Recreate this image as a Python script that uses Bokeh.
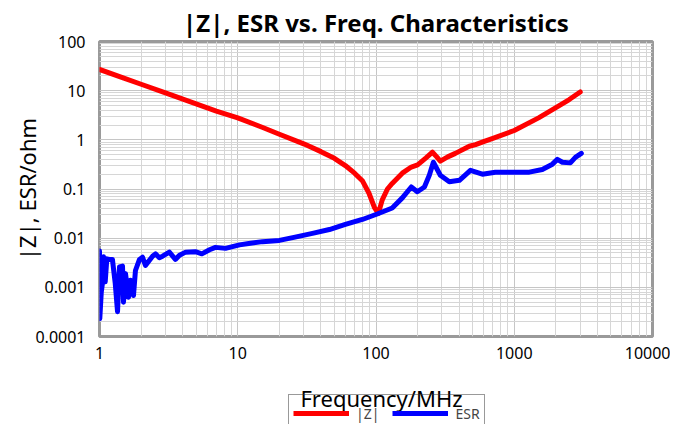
import numpy as np
from bokeh.plotting import figure
from bokeh.layouts import column
from bokeh.models import Range1d, FixedTicker, CustomJSTickFormatter, Legend, LegendItem, Label
from bokeh.embed import file_html
from bokeh.resources import INLINE

# ---- data ----
freq_z = [1, 1.5, 2, 3, 5, 7, 10, 15, 20, 30,
          40, 50, 60, 70, 80, 89, 97.5, 104, 111, 121,
          131, 155, 180, 200, 230, 256, 275, 292, 330, 375,
          473, 525, 600, 700, 1000, 1500, 2000, 2500, 3000]
z_vals = [27, 18, 13.5, 9, 5.4, 3.85, 2.8, 1.8, 1.3, 0.83,
          0.575, 0.42, 0.30, 0.21, 0.145, 0.082, 0.042, 0.032, 0.06, 0.1,
          0.13, 0.21, 0.28, 0.31, 0.43, 0.56, 0.45, 0.37, 0.45, 0.53,
          0.74, 0.8, 0.92, 1.07, 1.55, 2.8, 4.5, 6.6, 9.4]

freq_esr = [1.0, 1.005, 1.03, 1.05, 1.07, 1.1, 1.13, 1.18, 1.24, 1.3,
            1.35, 1.395, 1.467, 1.491, 1.542, 1.621, 1.675, 1.761, 1.82, 1.947,
            2.046, 2.15, 2.42, 2.54, 2.71, 2.86, 3.2, 3.54, 3.79, 4.2,
            4.94, 5.5, 6.25, 6.9, 8.15, 10.3, 12, 15.1, 20, 26,
            34.7, 46, 60, 79.7, 102, 131, 155, 180, 199, 224,
            243, 260, 292, 339, 401, 482, 588, 730, 968, 1285,
            1596, 1888, 2050, 2228, 2545, 2767, 3056]
esr_vals = [0.0055, 0.00023, 0.0008, 0.0012, 0.0042, 0.0013, 0.0038, 0.0037, 0.0037, 0.0012,
            0.00032, 0.0026, 0.0027, 0.0005, 0.0019, 0.00063, 0.0014, 0.00068, 0.0022, 0.0037,
            0.0041, 0.0028, 0.0043, 0.0048, 0.0040, 0.0043, 0.0052, 0.0037, 0.0045, 0.0052,
            0.0053, 0.0048, 0.0058, 0.0065, 0.0062, 0.0073, 0.0078, 0.0085, 0.009, 0.0105,
            0.0125, 0.015, 0.019, 0.024, 0.031, 0.041, 0.066, 0.11, 0.088, 0.11,
            0.19, 0.35, 0.19, 0.14, 0.15, 0.24, 0.2, 0.22, 0.22, 0.22,
            0.25, 0.32, 0.4, 0.35, 0.34, 0.44, 0.53]

x_ticks = [1, 10, 100, 1000, 10000]
x_tick_labels = ["1", "10", "100", "1000", "10000"]
y_ticks = [0.0001, 0.001, 0.01, 0.1, 1, 10, 100]
y_tick_labels = ["0.0001", "0.001", "0.01", "0.1", "1", "10", "100"]

title_text = "|Z|, ESR vs. Freq. Characteristics"
x_label = "Frequency/MHz"
y_label = "|Z|, ESR/ohm"
series_names = ["|Z|", "ESR"]
series_colors = ["#ff0000", "#0000ff"]

FONT = "Noto Sans"
W = 670
H_MAIN = 384
H_STRIP = 40
BL, BR = 99, 18

p = figure(width=W, height=H_MAIN, x_axis_type="log", y_axis_type="log",
           x_range=Range1d(1, 10000), y_range=Range1d(0.0001, 100),
           output_backend="svg", toolbar_location=None,
           min_border_left=BL, min_border_right=BR,
           min_border_top=36, min_border_bottom=48)

p.title.text = title_text
p.title.align = "center"
p.title.text_font = FONT
p.title.text_font_style = "bold"
p.title.text_font_size = "24px"
p.title.text_color = "black"
p.title.standoff = 6

x_minor = [m * 10 ** k for k in range(0, 4) for m in range(2, 10)]
y_minor = [m * 10.0 ** k for k in range(-4, 2) for m in range(2, 10)]
p.xaxis.ticker = FixedTicker(ticks=x_ticks, minor_ticks=x_minor)
p.yaxis.ticker = FixedTicker(ticks=y_ticks, minor_ticks=y_minor)

fmt_code = """
let best = 0, d = Infinity;
for (let i = 0; i < tvals.length; i++) {
  const e = Math.abs(Math.log10(tick) - Math.log10(tvals[i]));
  if (e < d) { d = e; best = i; }
}
return tlabels[best];
"""
p.xaxis.formatter = CustomJSTickFormatter(args=dict(tvals=x_ticks, tlabels=x_tick_labels), code=fmt_code)
p.yaxis.formatter = CustomJSTickFormatter(args=dict(tvals=y_ticks, tlabels=y_tick_labels), code=fmt_code)

for ax in (p.xaxis[0], p.yaxis[0]):
    ax.axis_line_color = None
    ax.major_tick_line_color = None
    ax.minor_tick_line_color = None
    ax.major_tick_out = 0
    ax.minor_tick_out = 0
    ax.major_tick_in = 0
    ax.minor_tick_in = 0
    ax.major_label_text_font = FONT
    ax.major_label_text_font_size = "16px"
    ax.major_label_text_color = "black"

p.xaxis.major_label_standoff = 10
p.yaxis.major_label_standoff = 14
p.yaxis.axis_label = y_label
p.yaxis.axis_label_text_font = FONT
p.yaxis.axis_label_text_font_style = "normal"
p.yaxis.axis_label_text_font_size = "22px"
p.yaxis.axis_label_text_color = "black"
p.yaxis.axis_label_standoff = -10

p.grid.grid_line_color = "#c6c6c6"
p.grid.grid_line_width = 1
p.grid.minor_grid_line_color = "#d6d6d6"
p.grid.minor_grid_line_width = 1

p.outline_line_color = "#9a9a9a"
p.outline_line_width = 3
p.background_fill_color = "white"
p.border_fill_color = "white"

r1 = p.line(freq_z, z_vals, line_color=series_colors[0], line_width=5, line_join="round", line_cap="round")
r2 = p.line(freq_esr, esr_vals, line_color=series_colors[1], line_width=5, line_join="round", line_cap="round")

# ---- bottom strip (same horizontal frame as the chart): x-axis title and legend ----
q = figure(width=W, height=H_STRIP, x_range=Range1d(0, 1), y_range=Range1d(0, 1),
           output_backend="svg", toolbar_location=None, title=None,
           x_axis_location=None, y_axis_location=None,
           min_border_left=BL, min_border_right=BR,
           min_border_top=0, min_border_bottom=0)
q.grid.visible = False
q.outline_line_color = None
q.background_fill_color = "white"
q.border_fill_color = "white"

q.add_layout(Label(x=0.51, y=0.675, text=x_label, text_align="center", text_baseline="alphabetic",
                   text_font=FONT, text_font_size="22px", text_color="black"))

nan = np.array([np.nan])
d1 = q.line(nan, nan, line_color=series_colors[0], line_width=5)
d2 = q.line(nan, nan, line_color=series_colors[1], line_width=5)
legend = Legend(items=[LegendItem(label=series_names[0], renderers=[d1]),
                       LegendItem(label=series_names[1], renderers=[d2])],
                orientation="horizontal", location=(189, -8), margin=0,
                padding=4, spacing=13, glyph_width=56, glyph_height=28, label_height=10,
                label_standoff=7, label_text_font=FONT, label_text_font_size="14px",
                border_line_color="#333333", border_line_width=1,
                background_fill_color=None)
q.add_layout(legend)

layout = column(p, q, spacing=0)
open("out.html", "w").write(file_html(layout, INLINE))
